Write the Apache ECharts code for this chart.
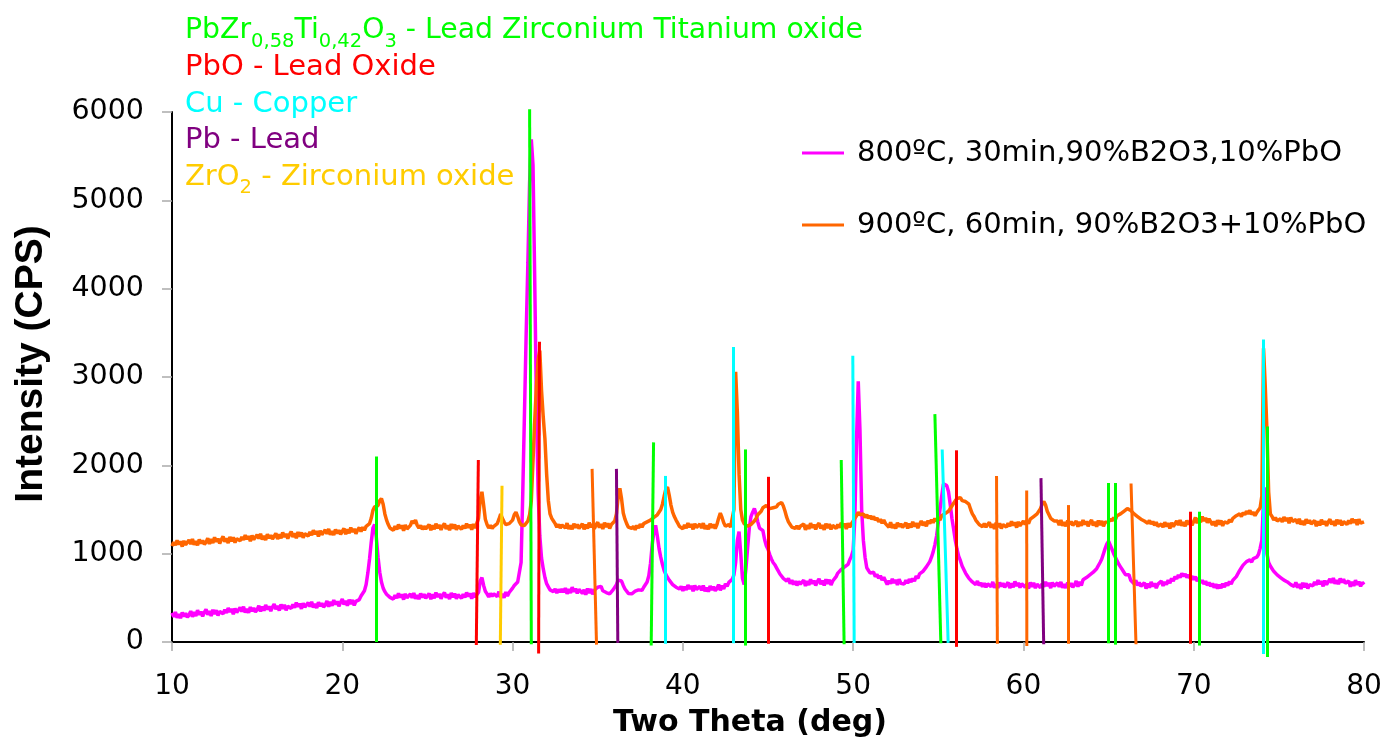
<!DOCTYPE html>
<html><head><meta charset="utf-8">
<script src="https://cdn.jsdelivr.net/npm/echarts@6/dist/echarts.min.js"></script>
<style>html,body{margin:0;padding:0;background:#fff}#c{width:1394px;height:744px}</style>
</head><body><div id="c"></div><script>
// ---- scan grid (two-theta, deg): start and step of the instrument scan ----
const angleStart = 10;
const angleStep = 0.1;

// ---- series names ----
const name800 = '800ºC, 30min,90%B2O3,10%PbO';
const name900 = '900ºC, 60min, 90%B2O3+10%PbO';

// ---- intensity (CPS), one row per degree: d.0 ... d.9 ----
const intensity800 = [
 330,285,340,275,315,270,335,290,325,280, //10
 305,350,285,340,295,360,310,345,290,335, //11
 370,310,350,295,365,315,360,300,345,355, //12
 320,365,330,385,340,375,315,380,335,355, //13
 390,345,400,335,375,330,395,350,385,340, //14
 365,410,345,400,355,420,370,405,350,395, //15
 430,370,410,355,425,375,420,360,405,415, //16
 380,425,390,445,400,435,375,440,395,415, //17
 445,400,455,390,430,385,450,405,440,395, //18
 420,465,400,455,410,475,425,460,405,450, //19
 485,425,465,410,480,430,475,415,460,470, //20
 480,520,510,580,650,780,940,1130,1290,1330, //21
 1180,960,790,680,610,570,540,525,505,495, //22
 485,530,495,550,505,540,480,545,500,520, //23
 545,500,555,490,530,485,550,505,540,495, //24
 505,550,485,540,495,560,510,545,490,535, //25
 560,500,540,485,555,505,550,490,535,545, //26
 495,540,505,560,515,550,490,555,510,530, //27
 560,690,730,640,575,545,510,550,520,545, //28
 560,515,570,505,545,500,565,520,560,580, //29
 610,640,660,680,700,900,1700,2600,3500,4300, //30
 5200,5690,5400,4100,2700,1700,1200,950,830,730, //31
 660,625,590,610,570,600,555,595,565,600, //32
 565,610,545,600,555,620,570,605,550,595, //33
 610,550,590,535,605,555,600,540,585,595, //34
 620,600,630,580,595,560,580,545,555,590, //35
 610,650,700,720,690,640,600,580,550,570, //36
 545,560,575,555,590,600,585,620,630,680, //37
 750,890,1100,1250,1320,1200,1060,960,880,810, //38
 765,730,700,690,650,660,620,640,600,630, //39
 580,625,590,645,600,635,575,640,595,615, //40
 630,585,640,575,615,570,635,590,625,580, //41
 605,650,585,640,600,660,630,675,665,710, //42
 760,900,1150,1250,1000,720,650,820,1060,1290, //43
 1420,1470,1510,1450,1360,1290,1310,1260,1160,1090, //44
 1050,990,940,900,875,840,805,770,750,720, //45
 700,690,720,660,700,650,690,640,685,655, //46
 655,700,635,690,645,710,660,695,640,685, //47
 715,655,695,640,710,660,705,645,690,700, //48
 740,780,760,820,800,850,830,880,930,970, //49
 1040,1400,2300,2950,2400,1500,1150,960,840,810, //50
 780,760,790,740,765,720,750,700,735,690, //51
 650,695,660,715,670,705,645,710,665,685, //52
 655,700,665,710,680,720,690,745,720,770, //53
 750,800,780,850,840,910,960,1020,1100,1200, //54
 1350,1500,1650,1790,1800,1770,1700,1560,1400,1280, //55
 1150,1050,970,920,860,820,780,750,720,700, //56
 680,700,650,690,640,670,625,665,620,660, //57
 670,625,680,615,655,610,675,630,665,620, //58
 630,675,610,665,620,685,635,670,615,660, //59
 680,620,660,605,675,625,670,610,655,665, //60
 615,660,625,680,635,670,610,675,630,650, //61
 670,625,680,615,655,610,675,630,665,620, //62
 645,690,625,680,640,705,690,730,715,760, //63
 745,790,780,830,850,900,940,1000,1060,1110, //64
 1140,1120,1050,1000,960,920,880,850,820,790, //65
 760,740,760,700,690,660,700,640,675,630, //66
 625,670,605,660,615,680,630,665,610,655, //67
 650,690,635,680,650,700,665,720,690,740, //68
 715,760,730,775,745,770,730,760,720,745, //69
 705,740,690,725,670,700,655,690,640,675, //70
 630,665,615,655,605,650,610,660,620,670, //71
 640,685,655,700,690,740,760,810,840,870, //72
 880,910,890,930,905,945,925,960,990,1060, //73
 1150,1600,1750,1000,900,860,830,800,780,760, //74
 770,730,745,700,720,680,700,650,670,630, //75
 675,615,655,600,670,620,665,605,650,660, //76
 635,680,645,700,655,690,630,695,650,670, //77
 715,670,725,660,700,655,720,675,710,665, //78
 645,690,625,680,635,700,650,685,630,675, //79
 650 //80
];
const intensity900 = [
 1085,1130,1095,1150,1105,1140,1080,1145,1100,1120, //10
 1155,1110,1165,1100,1140,1095,1160,1115,1150,1105, //11
 1130,1175,1110,1165,1120,1185,1135,1170,1115,1160, //12
 1195,1135,1175,1120,1190,1140,1185,1125,1170,1180, //13
 1145,1190,1155,1210,1165,1200,1140,1205,1160,1180, //14
 1215,1170,1225,1160,1200,1155,1220,1175,1210,1165, //15
 1185,1230,1165,1220,1175,1240,1190,1225,1170,1215, //16
 1250,1190,1230,1175,1245,1195,1240,1180,1225,1235, //17
 1200,1245,1210,1265,1220,1255,1195,1260,1215,1235, //18
 1270,1225,1280,1215,1255,1210,1275,1230,1265,1220, //19
 1240,1285,1220,1275,1230,1295,1245,1280,1225,1270, //20
 1295,1250,1300,1265,1310,1290,1340,1400,1490,1530, //21
 1510,1545,1600,1625,1560,1450,1380,1330,1290,1310, //22
 1265,1310,1275,1330,1285,1320,1260,1325,1280,1300, //23
 1320,1370,1345,1380,1320,1290,1320,1275,1310,1280, //24
 1285,1330,1265,1320,1275,1340,1290,1325,1270,1315, //25
 1340,1280,1320,1265,1335,1285,1330,1270,1315,1325, //26
 1275,1320,1285,1340,1295,1330,1270,1335,1290,1310, //27
 1400,1610,1700,1550,1390,1330,1290,1320,1285,1310, //28
 1300,1340,1390,1450,1400,1360,1330,1310,1340,1320, //29
 1380,1440,1470,1420,1360,1325,1340,1320,1335,1370, //30
 1440,1600,2050,2500,2900,3200,3300,2850,2550,2300, //31
 1900,1600,1450,1400,1370,1340,1300,1330,1290,1325, //32
 1335,1290,1345,1280,1320,1275,1340,1295,1330,1285, //33
 1295,1340,1275,1330,1285,1350,1300,1335,1280,1325, //34
 1355,1295,1335,1280,1350,1300,1345,1285,1330,1340, //35
 1370,1450,1640,1740,1620,1460,1390,1340,1300,1320, //36
 1285,1310,1270,1320,1290,1335,1300,1340,1320,1360, //37
 1345,1380,1370,1410,1400,1440,1460,1500,1560,1650, //38
 1730,1755,1660,1550,1470,1420,1380,1345,1310,1330, //39
 1280,1325,1290,1345,1300,1335,1275,1340,1295,1315, //40
 1335,1290,1345,1280,1320,1275,1340,1295,1330,1285, //41
 1330,1400,1460,1410,1350,1310,1290,1330,1300,1320, //42
 1500,3060,2600,1900,1500,1380,1340,1320,1310,1290, //43
 1330,1310,1370,1400,1440,1460,1480,1520,1500,1545, //44
 1550,1510,1495,1520,1500,1530,1560,1575,1580,1540, //45
 1480,1410,1360,1330,1300,1320,1285,1315,1280,1310, //46
 1290,1335,1270,1325,1280,1345,1295,1330,1275,1320, //47
 1345,1285,1325,1270,1340,1290,1335,1275,1320,1330, //48
 1285,1330,1295,1350,1305,1340,1280,1345,1300,1340, //49
 1360,1400,1430,1470,1440,1420,1450,1410,1440,1400, //50
 1430,1390,1420,1380,1405,1360,1390,1345,1380,1340, //51
 1345,1300,1355,1290,1330,1285,1350,1305,1340,1295, //52
 1305,1350,1285,1340,1295,1360,1310,1345,1290,1335, //53
 1370,1320,1360,1310,1375,1340,1385,1350,1400,1370, //54
 1410,1380,1430,1420,1455,1450,1480,1500,1540,1560, //55
 1600,1625,1610,1635,1600,1620,1590,1610,1560,1500, //56
 1450,1420,1380,1360,1330,1350,1305,1340,1300,1330, //57
 1355,1295,1335,1280,1350,1300,1345,1285,1330,1340, //58
 1300,1345,1310,1365,1320,1355,1295,1360,1315,1335, //59
 1370,1330,1375,1340,1390,1370,1420,1400,1450,1470, //60
 1510,1560,1590,1550,1480,1440,1400,1410,1370,1390, //61
 1370,1325,1380,1315,1355,1310,1375,1330,1365,1320, //62
 1325,1370,1305,1360,1315,1380,1330,1365,1310,1355, //63
 1380,1320,1360,1305,1375,1325,1370,1310,1355,1365, //64
 1360,1395,1370,1410,1385,1430,1410,1450,1440,1480, //65
 1470,1510,1515,1490,1500,1450,1470,1420,1435,1390, //66
 1410,1370,1390,1345,1375,1335,1365,1320,1355,1310, //67
 1290,1335,1300,1355,1310,1345,1285,1350,1305,1325, //68
 1370,1325,1380,1315,1355,1310,1375,1330,1365,1320, //69
 1365,1410,1345,1400,1355,1420,1370,1405,1350,1395, //70
 1385,1325,1365,1310,1380,1330,1375,1315,1360,1370, //71
 1345,1385,1360,1400,1380,1430,1410,1450,1420,1465, //72
 1440,1480,1450,1490,1445,1470,1430,1465,1450,1520, //73
 1650,3325,2900,2400,1700,1450,1420,1380,1410,1370, //74
 1350,1395,1360,1415,1370,1405,1345,1410,1365,1385, //75
 1385,1340,1395,1330,1370,1325,1390,1345,1380,1335, //76
 1330,1375,1310,1365,1320,1385,1335,1370,1315,1360, //77
 1390,1330,1370,1315,1385,1335,1380,1320,1365,1375, //78
 1330,1375,1340,1395,1350,1385,1325,1390,1345,1365, //79
 1360 //80
];

// ---- reference pattern lines: [top angle, top intensity, foot angle, foot intensity] ----
const pztRefs = [[22.0,2100,22.0,0],[31.0,6030,31.1,-25],[38.28,2260,38.14,-40],[43.65,2180,43.65,-40],[49.3,2060,49.47,-25],[54.8,2580,55.15,-15],[64.97,1800,64.97,-15],[65.38,1800,65.38,-30],[70.32,1475,70.32,-40],[74.32,2440,74.32,-170]];
const pboRefs = [[27.99,2060,27.87,-35],[31.58,3400,31.53,-130],[45.04,1870,45.04,-20],[56.03,2170,56.03,-55],[69.79,1475,69.79,-20]];
const cuRefs = [[38.98,1880,38.98,-20],[42.98,3340,42.98,-15],[49.98,3240,50.06,-10],[55.23,2180,55.58,-10],[74.08,3425,74.08,-135]];
const pbRefs = [[36.1,1960,36.18,-10],[61.03,1855,61.19,-25]];
const zro2Refs = [[29.38,1770,29.28,-30]];
const otherRefs = [[34.67,1960,34.93,-30],[58.42,1880,58.47,-20],[60.19,1715,60.2,-45],[62.64,1550,62.64,-20],[66.32,1795,66.61,-25]];

// ---- annotation texts ----
const phaseTexts = [
  ['PbZr', ['0,58'], 'Ti', ['0,42'], 'O', ['3'], ' - Lead Zirconium Titanium oxide'],
  ['PbO - Lead Oxide'],
  ['Cu - Copper'],
  ['Pb - Lead'],
  ['ZrO', ['2'], ' - Zirconium oxide']
];
const phaseColors = ['#00FF00', '#FF0000', '#00FFFF', '#800080', '#FFCC00'];
const xTitle = 'Two Theta (deg)';
const yTitle = 'Intensity (CPS)';

// ---- build ----
const twoTheta = intensity800.map((_, i) => Math.round((angleStart + i * angleStep) * 10) / 10);
const s800 = twoTheta.map((x, i) => [x, intensity800[i]]);
const s900 = twoTheta.map((x, i) => [x, intensity900[i]]);

const FONT = '"DejaVu Sans", sans-serif';

function refSeries(refs, color, name) {
  return {
    type: 'lines', name: name, coordinateSystem: 'cartesian2d', clip: false, z: 5,
    silent: true, animation: false,
    lineStyle: { color: color, width: 3, opacity: 1 },
    data: refs.map(r => ({ coords: [[r[0], r[1]], [r[2], r[3]]] }))
  };
}

const rowY = [31, 67, 104, 140, 177];
const mainSizes = [28.3, 29, 29, 29, 29];
const graphics = phaseTexts.map((parts, k) => {
  const col = phaseColors[k];
  const text = parts.map(p => Array.isArray(p) ? '{s|' + p[0] + '}' : '{m|' + p + '}').join('');
  return {
    type: 'text', x: 185, y: rowY[k], z: 10,
    style: {
      text: text, verticalAlign: 'middle', align: 'left',
      rich: {
        m: { fontSize: mainSizes[k], fontFamily: FONT, fill: col, lineHeight: 42, verticalAlign: 'middle' },
        s: { fontSize: 19.5, fontFamily: FONT, fill: col, verticalAlign: 'bottom' }
      }
    }
  };
});
graphics.push({
  type: 'text', x: 750, y: 723, z: 10,
  style: { text: xTitle, fontSize: 30, fontWeight: 'bold', fontFamily: FONT, fill: '#000', align: 'center', verticalAlign: 'middle' }
});
graphics.push({
  type: 'text', x: 31, y: 364, rotation: Math.PI / 2, z: 10,
  style: { text: yTitle, fontSize: 39, fontWeight: 'bold', fontFamily: '"Liberation Sans", Arial, sans-serif', fill: '#000', align: 'center', verticalAlign: 'middle' }
});

const chart = echarts.init(document.getElementById('c'), null, { renderer: 'canvas' });
chart.setOption({
  animation: false,
  backgroundColor: '#fff',
  grid: { left: 172, right: 30, top: 112, bottom: 102, containLabel: false },
  legend: {
    data: [name800, name900], orient: 'vertical', left: 802, top: 136, padding: 0,
    itemGap: 38, itemWidth: 42, itemHeight: 3, icon: 'rect',
    textStyle: { fontFamily: FONT, fontSize: 29, color: '#000', lineHeight: 34, padding: [0, 0, 0, 8] }
  },
  xAxis: {
    type: 'value', min: 10, max: 80, interval: 10,
    axisLine: { onZero: true, lineStyle: { color: '#000', width: 2 } },
    axisTick: { show: true, length: 9, lineStyle: { color: '#aaa', width: 1.5 } },
    splitLine: { show: false },
    axisLabel: { fontFamily: FONT, fontSize: 28, color: '#000', margin: 31 }
  },
  yAxis: {
    type: 'value', min: 0, max: 6000, interval: 1000,
    axisLine: { show: true, lineStyle: { color: '#000', width: 2 } },
    axisTick: { show: true, length: 10, lineStyle: { color: '#aaa', width: 1.5 } },
    splitLine: { show: false },
    axisLabel: { fontFamily: FONT, fontSize: 28.5, color: '#000', margin: 28, formatter: v => String(v) }
  },
  graphic: graphics,
  series: [
    { name: name800, type: 'line', data: s800, symbol: 'none', showSymbol: false, z: 2,
      lineStyle: { color: '#FF00FF', width: 3.5 }, itemStyle: { color: '#FF00FF' } },
    { name: name900, type: 'line', data: s900, symbol: 'none', showSymbol: false, z: 3,
      lineStyle: { color: '#FF6600', width: 3.5 }, itemStyle: { color: '#FF6600' } },
    refSeries(pztRefs, '#00FF00', 'PZT'),
    refSeries(pboRefs, '#FF0000', 'PbO'),
    refSeries(cuRefs, '#00FFFF', 'Cu'),
    refSeries(pbRefs, '#800080', 'Pb'),
    refSeries(zro2Refs, '#FFCC00', 'ZrO2'),
    refSeries(otherRefs, '#FF6600', 'other')
  ]
});
</script></body></html>
